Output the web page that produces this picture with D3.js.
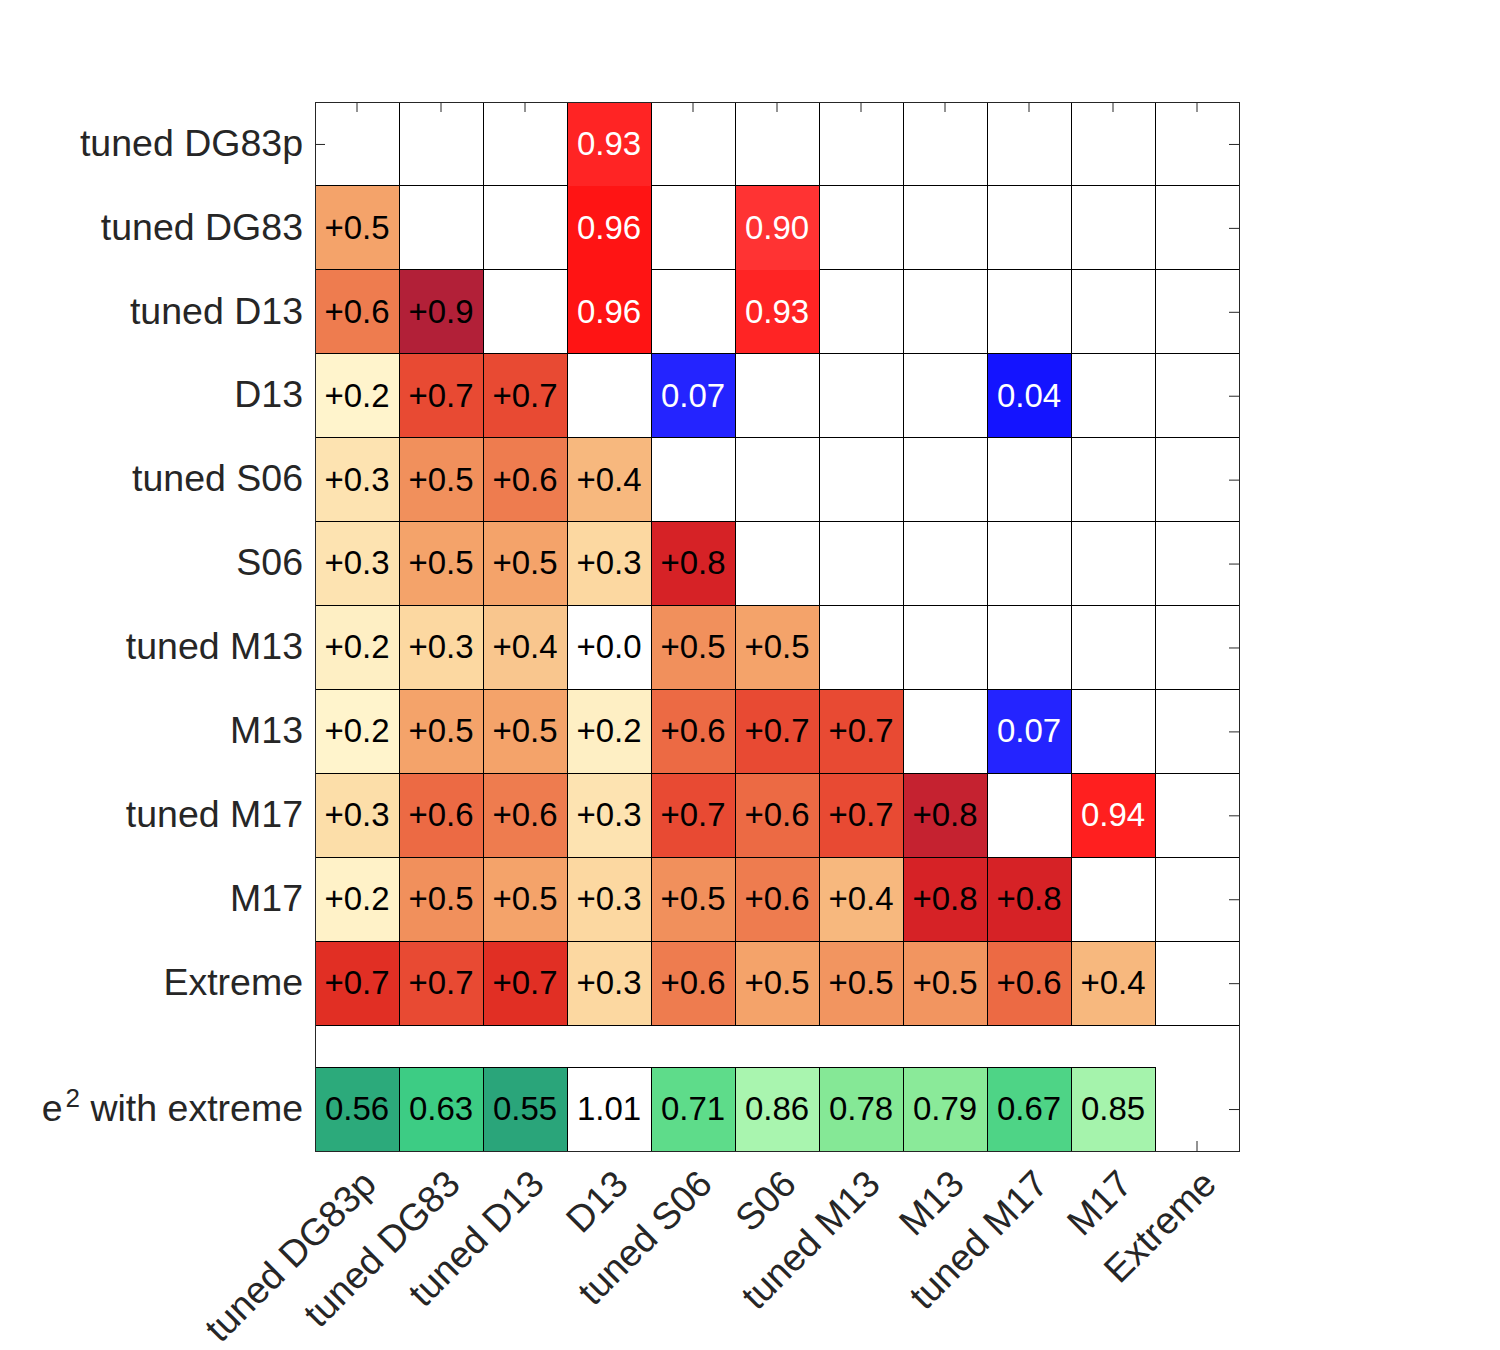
<!DOCTYPE html>
<html>
<head>
<meta charset="utf-8">
<script src="https://cdn.jsdelivr.net/npm/d3@7"></script>
<style>
  html, body { margin: 0; padding: 0; background: #fff; }
  svg { display: block; }
  text { font-family: "Liberation Sans", Arial, Helvetica, sans-serif; }
</style>
</head>
<body>
<svg id="chart" width="1500" height="1350"></svg>
<script>
// ---------------- data ----------------
const rowLabels = ["tuned DG83p", "tuned DG83", "tuned D13", "D13", "tuned S06", "S06",
                   "tuned M13", "M13", "tuned M17", "M17", "Extreme"];
const colLabels = ["tuned DG83p", "tuned DG83", "tuned D13", "D13", "tuned S06", "S06",
                   "tuned M13", "M13", "tuned M17", "M17", "Extreme"];
const e2Label = "e^2 with extreme";

// lower triangle correlations (row i has i values, columns 0..i-1)
const corrValues = [
  [],
  [0.50],
  [0.60, 0.90],
  [0.20, 0.70, 0.70],
  [0.27, 0.54, 0.60, 0.40],
  [0.27, 0.50, 0.50, 0.31, 0.80],
  [0.22, 0.31, 0.36, 0.00, 0.54, 0.50],
  [0.20, 0.50, 0.50, 0.22, 0.64, 0.70, 0.70],
  [0.29, 0.64, 0.60, 0.27, 0.70, 0.64, 0.70, 0.84],
  [0.21, 0.54, 0.50, 0.31, 0.54, 0.60, 0.40, 0.80, 0.80],
  [0.74, 0.70, 0.74, 0.31, 0.60, 0.50, 0.53, 0.53, 0.64, 0.40]
];

// upper triangle entries: [row, column, value]
const upperValues = [
  [0, 3, 0.93],
  [1, 3, 0.96], [1, 5, 0.90],
  [2, 3, 0.96], [2, 5, 0.93],
  [3, 4, 0.07], [3, 8, 0.04],
  [7, 8, 0.07],
  [8, 9, 0.94]
];

// e^2 with extreme (one per column, last column empty)
const e2Values = [0.56, 0.63, 0.55, 1.01, 0.71, 0.86, 0.78, 0.79, 0.67, 0.85];

// ---------------- scales ----------------
const svg = d3.select("#chart");
svg.append("rect").attr("width", 1500).attr("height", 1350).attr("fill", "#fff");

const pLeft = 315, pRight = 1239, pTop = 102, pBottom = 1151;
const x = d3.scaleBand().domain(d3.range(colLabels.length)).range([pLeft, pRight]).padding(0);
// rows 0..10 occupy [i, i+1]; a half-row gap; e2 row occupies [11.5, 12.5]
const e2Pos = 11.5;
const y = d3.scaleLinear().domain([0, 12.5]).range([pTop, pBottom]);
const rowH = y(1) - y(0);

const corrColor = d3.scaleLinear()
  .domain([0.00, 0.20, 0.30, 0.40, 0.50, 0.54, 0.60, 0.64, 0.70, 0.74, 0.80, 0.84, 0.90])
  .range(["#ffffff", "#fff4cc", "#fcdca5", "#f7b87e", "#f4a36a", "#f1905c", "#ee7c4f",
          "#ec6a44", "#e84a33", "#e12f24", "#d62226", "#c52230", "#b22038"])
  .clamp(true);
const upperColor = d3.scaleLinear().domain([0, 0.5, 1]).range(["#0000ff", "#ffffff", "#ff0000"]).clamp(true);
const e2Color = d3.scaleLinear()
  .domain([0.55, 0.63, 0.67, 0.71, 0.78, 0.86, 1.0])
  .range(["#2aa57a", "#3dcc84", "#4ed486", "#5edc8a", "#85e896", "#a9f5af", "#ffffff"])
  .clamp(true);

const axisColor = "#262626";
const labelSize = 37.5, cellSize = 33;

// ---------------- axes (ticks drawn beneath cells) ----------------
const rowCenters = d3.range(rowLabels.length).map(i => i + 0.5).concat([e2Pos + 0.5]);
const allRowLabels = rowLabels.concat([e2Label]);

const gLeft = svg.append("g").attr("transform", `translate(${pLeft},0)`)
  .call(d3.axisLeft(y).tickValues(rowCenters).tickSize(-10).tickPadding(12)
        .tickFormat((d, i) => allRowLabels[i]));
const gRight = svg.append("g").attr("transform", `translate(${pRight},0)`)
  .call(d3.axisRight(y).tickValues(rowCenters).tickSize(-10).tickFormat(""));
const gTop = svg.append("g").attr("transform", `translate(0,${pTop})`)
  .call(d3.axisTop(x).tickSize(-10).tickFormat(""));
const gBottom = svg.append("g").attr("transform", `translate(0,${pBottom})`)
  .call(d3.axisBottom(x).tickSize(-10).tickFormat(i => colLabels[i]));

[gLeft, gRight, gTop, gBottom].forEach(g => {
  g.select(".domain").remove();
  g.selectAll(".tick line").attr("stroke", axisColor).attr("stroke-width", 1);
  g.selectAll("text").attr("fill", axisColor).style("font-size", labelSize + "px")
    .attr("font-family", null);
});
gLeft.selectAll(".tick text").attr("dy", "0.3em");

gBottom.selectAll(".tick text")
  .attr("x", null).attr("y", null).attr("dy", "0.35em")
  .attr("text-anchor", "end")
  .attr("transform", "translate(12,26) rotate(-45)");

// superscript for the e^2 label
gLeft.selectAll(".tick text").filter((d, i) => i === rowLabels.length).each(function () {
  const t = d3.select(this);
  t.text(null);
  t.append("tspan").text("e");
  t.append("tspan").text("2").style("font-size", "26px").attr("dx", "3").attr("dy", "-0.52em");
  t.append("tspan").text(" with extreme").attr("dy", "0.36em");
});

// ---------------- cells ----------------
const cellData = [];
corrValues.forEach((row, r) => row.forEach((v, c) => cellData.push({ r, c, v })));

const plot = svg.append("g");

// lower triangle
const lower = plot.selectAll("g.lower").data(cellData).join("g").attr("class", "lower");
lower.append("rect")
  .attr("x", d => x(d.c)).attr("y", d => y(d.r))
  .attr("width", x.bandwidth()).attr("height", rowH)
  .attr("fill", d => corrColor(d.v))
  .attr("stroke", "#000").attr("stroke-width", 1).attr("shape-rendering", "crispEdges");
lower.append("text")
  .attr("x", d => x(d.c) + x.bandwidth() / 2).attr("y", d => y(d.r + 0.5))
  .attr("text-anchor", "middle").attr("dy", "0.33em")
  .style("font-size", cellSize + "px").attr("fill", "#000")
  .text(d => "+" + d3.format(".1f")(d.v));

// upper triangle coloured entries (no edges)
const upper = plot.selectAll("g.upper").data(upperValues).join("g").attr("class", "upper");
upper.append("rect")
  .attr("x", d => x(d[1])).attr("y", d => y(d[0]))
  .attr("width", x.bandwidth()).attr("height", rowH)
  .attr("fill", d => upperColor(d[2]))
  .attr("shape-rendering", "crispEdges");
upper.append("text")
  .attr("x", d => x(d[1]) + x.bandwidth() / 2).attr("y", d => y(d[0] + 0.5))
  .attr("text-anchor", "middle").attr("dy", "0.33em")
  .style("font-size", cellSize + "px").attr("fill", "#fff")
  .text(d => d3.format(".2f")(d[2]));

// empty cells: outlines only
const filled = new Set(upperValues.map(d => d[0] + "-" + d[1]));
const emptyCells = [];
rowLabels.forEach((_, r) => colLabels.forEach((_, c) => {
  if (c >= r && !filled.has(r + "-" + c)) emptyCells.push({ r, c });
}));
plot.selectAll("rect.empty").data(emptyCells).join("rect").attr("class", "empty")
  .attr("x", d => x(d.c)).attr("y", d => y(d.r))
  .attr("width", x.bandwidth()).attr("height", rowH)
  .attr("fill", "none").attr("stroke", "#000").attr("stroke-width", 1)
  .attr("shape-rendering", "crispEdges");

// e^2 row
const e2 = plot.selectAll("g.e2").data(e2Values).join("g").attr("class", "e2");
e2.append("rect")
  .attr("x", (d, i) => x(i)).attr("y", y(e2Pos))
  .attr("width", x.bandwidth()).attr("height", rowH)
  .attr("fill", d => e2Color(d))
  .attr("stroke", "#000").attr("stroke-width", 1).attr("shape-rendering", "crispEdges");
e2.append("text")
  .attr("x", (d, i) => x(i) + x.bandwidth() / 2).attr("y", y(e2Pos + 0.5))
  .attr("text-anchor", "middle").attr("dy", "0.33em")
  .style("font-size", cellSize + "px").attr("fill", "#000")
  .text(d => d3.format(".2f")(d));

// frame
svg.append("rect")
  .attr("x", pLeft).attr("y", pTop).attr("width", pRight - pLeft).attr("height", pBottom - pTop)
  .attr("fill", "none").attr("stroke", axisColor).attr("stroke-width", 1)
  .attr("shape-rendering", "crispEdges");
</script>
</body>
</html>
